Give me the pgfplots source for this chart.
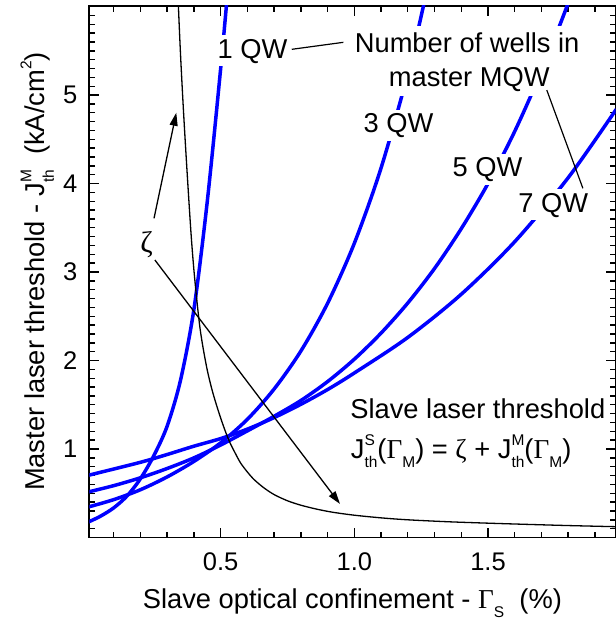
\documentclass[border=0pt]{standalone}
\usepackage{pgfplots}
\pgfplotsset{compat=1.18}
\usepackage{fontspec}
\setmainfont{Liberation Sans}
\newfontfamily\grk{Liberation Serif}
\usetikzlibrary{arrows.meta}
\newcommand{\scr}{\fontsize{15.5bp}{15.5bp}\selectfont}
\newcommand{\Jsym}[2]{J\rlap{\raisebox{0.48em}{\scr #1}}\raisebox{-0.34em}{\scr #2}}
\newcommand{\GamSub}[1]{{\grk Γ}\raisebox{-0.34em}{\scr #1}}
\tikzset{lbl/.style={fill=white, inner xsep=3bp, inner ysep=2bp, text height=21bp, text depth=6bp, font=\fontsize{27.3bp}{32bp}\selectfont}}
\begin{document}
\begin{tikzpicture}
\begin{axis}[
  name=ax, anchor=south west, at={(0,0)},
  scale only axis, width=526.2bp, height=531.8bp,
  xmin=0.0086, xmax=1.977, ymin=0, ymax=6.01,
  xtick={0.5,1,1.5}, xticklabels={0.5,1.0,1.5},
  minor xtick={0.1,0.2,0.3,0.4,0.6,0.7,0.8,0.9,1.1,1.2,1.3,1.4,1.6,1.7,1.8,1.9},
  ytick={1,2,3,4,5},
  minor ytick={0,0.1,...,6},
  tick align=inside,
  major tick length=10bp, minor tick length=6bp,
  every tick/.style={black, line width=1.4bp},
  axis line style={line width=1.8bp},
  tick label style={font=\fontsize{25.5bp}{30bp}\selectfont, /pgf/number format/assume math mode=true},
  xticklabel style={anchor=base, inner sep=0pt, yshift=-32.5bp},
  yticklabel style={anchor=east, inner sep=0pt, xshift=-11.8bp},
  label style={font=\fontsize{27.3bp}{32bp}\selectfont},
  xlabel={Slave optical confinement - \GamSub{S}\ \ (\%)},
  xlabel style={at={(axis description cs:0.5,-0.1331)}, anchor=base},
  ylabel={Master laser threshold - \Jsym{M}{th}\ \ (kA/cm\raisebox{0.48em}{\scr 2})},
  ylabel style={at={(axis description cs:-0.0851,0.5)}, anchor=base},
]
% 1 QW
\addplot[blue, line width=3.5bp, smooth] coordinates {
(0.005,0.175) (0.05,0.24) (0.10,0.335) (0.15,0.47) (0.20,0.665) (0.25,0.925)
(0.30,1.26) (0.35,1.78) (0.40,2.58) (0.45,3.80) (0.50,5.30) (0.53,6.30)};
% 3 QW
\addplot[blue, line width=3.5bp, smooth] coordinates {
(0.005,0.345) (0.10,0.428) (0.20,0.540) (0.30,0.685) (0.40,0.860) (0.50,1.070)
(0.60,1.336) (0.70,1.678) (0.80,2.107) (0.90,2.647) (1.00,3.325) (1.10,4.176)
(1.20,5.245) (1.28,6.30)};
% 5 QW
\addplot[blue, line width=3.5bp, smooth] coordinates {
(0.005,0.515) (0.10,0.586) (0.20,0.675) (0.30,0.780) (0.40,0.900) (0.50,1.045)
(0.60,1.205) (0.70,1.370) (0.80,1.548) (0.90,1.762) (1.00,2.015) (1.10,2.31)
(1.20,2.65) (1.30,3.04) (1.40,3.49) (1.50,4.00) (1.60,4.59) (1.70,5.27)
(1.80,6.04) (1.85,6.50)};
% 7 QW
\addplot[blue, line width=3.5bp, smooth] coordinates {
(0.005,0.703) (0.20,0.850) (0.30,0.938) (0.40,1.032) (0.50,1.118) (0.60,1.225)
(0.70,1.355) (0.80,1.505) (0.90,1.672) (1.00,1.859) (1.20,2.261) (1.40,2.749)
(1.60,3.343) (1.80,4.066) (1.98,4.84)};
% zeta
\addplot[black, line width=1.3bp, smooth] coordinates {
(0.336,6.5) (0.342,6.0) (0.350,5.45) (0.360,4.87) (0.370,4.35) (0.380,3.86)
(0.390,3.40) (0.400,3.02) (0.412,2.65) (0.423,2.36) (0.435,2.13) (0.450,1.89)
(0.465,1.70) (0.480,1.54) (0.500,1.35) (0.520,1.18) (0.535,1.07) (0.555,0.95)
(0.575,0.84) (0.600,0.74) (0.625,0.655) (0.660,0.565) (0.700,0.485) (0.750,0.415)
(0.800,0.365) (0.860,0.32) (0.920,0.285) (1.00,0.252) (1.10,0.222) (1.20,0.200)
(1.35,0.178) (1.50,0.162) (1.65,0.148) (1.80,0.135) (1.98,0.122)};
% labels
\node[lbl, anchor=base] at (axis cs:0.619,5.415) {1 QW};
\node[lbl, anchor=base, text height=24bp, text depth=8bp] at (axis cs:1.422,5.482) {Number of wells in};
\node[lbl, anchor=base, text height=22bp, text depth=8bp] at (axis cs:1.430,5.102) {master MQW};
\node[lbl, anchor=base] at (axis cs:1.165,4.574) {3 QW};
\node[lbl, anchor=base] at (axis cs:1.498,4.077) {5 QW};
\node[lbl, anchor=base] at (axis cs:1.744,3.675) {7 QW};
\node[anchor=base, inner sep=0pt, font=\fontsize{27.3bp}{32bp}\selectfont] at (axis cs:1.462,1.347) {Slave laser threshold};
\node[anchor=base west, inner sep=0pt, font=\fontsize{27.3bp}{32bp}\selectfont] at (axis cs:0.9865,0.895) {\Jsym{S}{th}(\GamSub{M}) = {\grk ζ} + \Jsym{M}{th}(\GamSub{M})};
\node[inner sep=0pt, font={\grk\fontsize{30bp}{32bp}\selectfont}] at (axis cs:0.223,3.305) {ζ};
% leader lines and arrows
\draw[black, line width=1.2bp] (axis cs:0.766,5.517) -- (axis cs:0.959,5.596);
\draw[black, line width=1.2bp] (axis cs:1.720,5.056) -- (axis cs:1.855,3.946);
\draw[black, line width=1.3bp, -{Triangle[length=13bp,width=8bp]}] (axis cs:0.2507,3.607) -- (axis cs:0.334,4.80);
\draw[black, line width=1.3bp, -{Triangle[length=13bp,width=8bp]}] (axis cs:0.254,3.136) -- (axis cs:0.9465,0.379);
\end{axis}
\pgfresetboundingbox
\path (-89.3bp,-84.5bp) rectangle (526.7bp,537.5bp);
\end{tikzpicture}
\end{document}
